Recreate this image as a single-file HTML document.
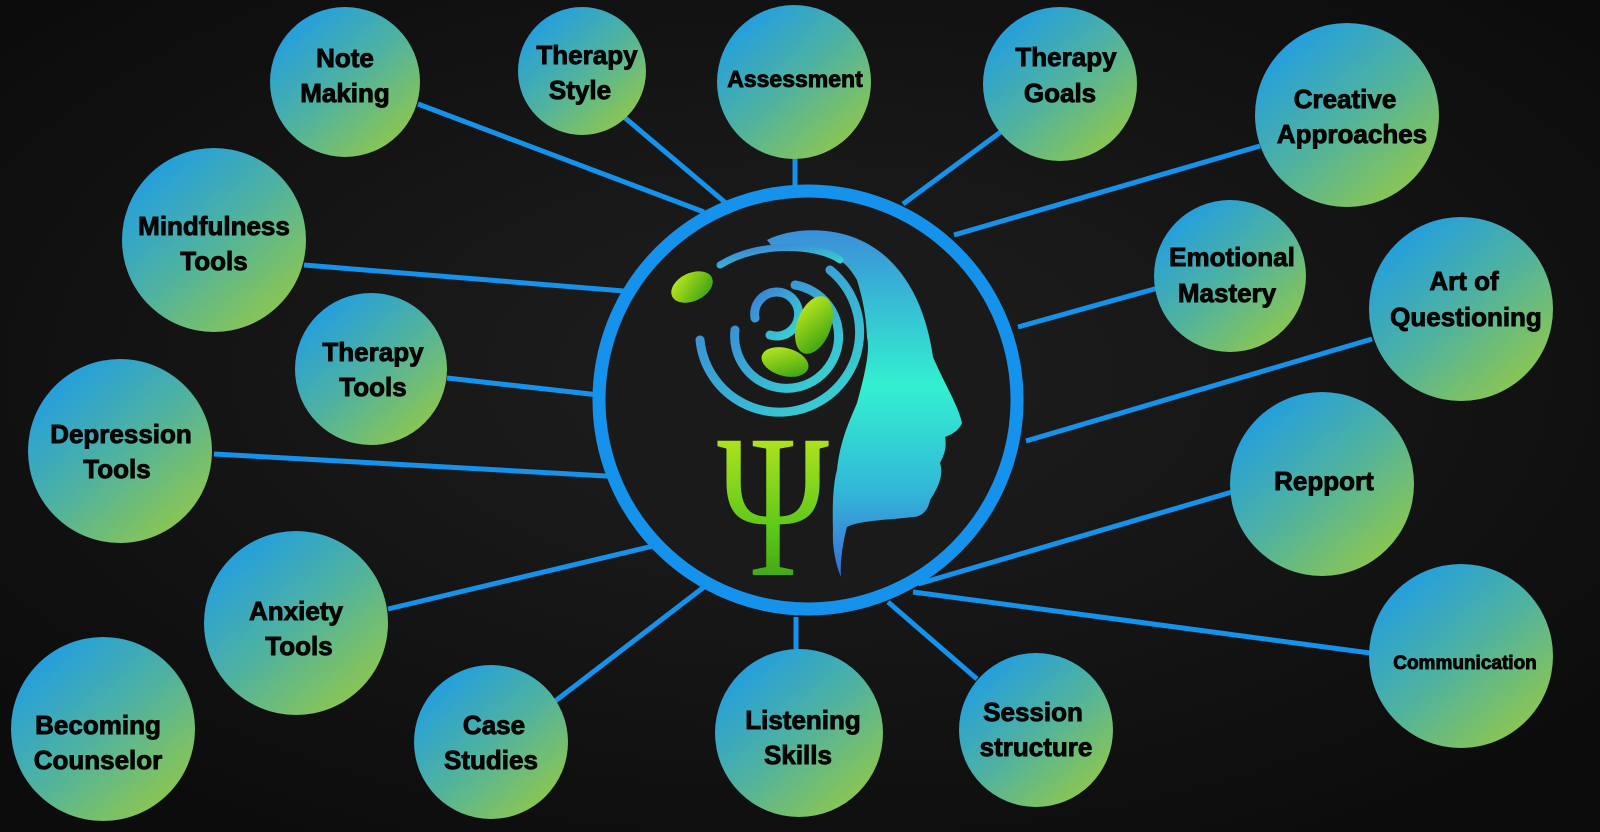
<!DOCTYPE html>
<html><head><meta charset="utf-8"><style>
html,body{margin:0;padding:0;background:#111;}
svg{display:block}
text{font-family:"Liberation Sans","DejaVu Sans",sans-serif;font-weight:bold;fill:#050505;text-anchor:middle;stroke:#050505;stroke-width:0.9px}
</style></head><body>
<svg width="1600" height="832" viewBox="0 0 1600 832" xmlns="http://www.w3.org/2000/svg">
<defs>
<radialGradient id="bg" cx="50%" cy="45%" r="65%"><stop offset="0" stop-color="#1f1f1f"/><stop offset="1" stop-color="#0c0c0c"/></radialGradient>
<linearGradient id="ng" x1="0.15" y1="0.1" x2="0.85" y2="0.9"><stop offset="0" stop-color="#229ee0"/><stop offset="0.5" stop-color="#4fb2a0"/><stop offset="1" stop-color="#8cc650"/></linearGradient>
<linearGradient id="hg" x1="0" y1="0" x2="0" y2="1"><stop offset="0" stop-color="#3a8fd8"/><stop offset="0.45" stop-color="#33f0d0"/><stop offset="0.75" stop-color="#32b8d8"/><stop offset="1" stop-color="#3a6ad8"/></linearGradient>
<linearGradient id="sg" x1="0" y1="0" x2="1" y2="1"><stop offset="0" stop-color="#3a7fd8"/><stop offset="1" stop-color="#38d8d0"/></linearGradient>
<linearGradient id="pg" x1="0" y1="0" x2="0" y2="1"><stop offset="0" stop-color="#d8f020"/><stop offset="0.6" stop-color="#5cc81a"/><stop offset="1" stop-color="#2e8a10"/></linearGradient>
<linearGradient id="lg" x1="0" y1="0" x2="1" y2="1"><stop offset="0" stop-color="#c8f020"/><stop offset="1" stop-color="#2e9a10"/></linearGradient>
</defs>
<rect width="1600" height="832" fill="url(#bg)"/>
<g stroke="#1592ec" stroke-width="5" stroke-linecap="butt">
<line x1="418" y1="104" x2="704" y2="212"/>
<line x1="624" y1="117" x2="727" y2="204"/>
<line x1="795" y1="158" x2="795" y2="186"/>
<line x1="1002" y1="131" x2="903" y2="204"/>
<line x1="1260" y1="146" x2="954" y2="235"/>
<line x1="304" y1="265" x2="624" y2="291"/>
<line x1="1158" y1="288" x2="1018" y2="327"/>
<line x1="1372" y1="339" x2="1026" y2="441"/>
<line x1="447" y1="378" x2="599" y2="395"/>
<line x1="214" y1="454" x2="624" y2="477"/>
<line x1="1232" y1="492" x2="918" y2="584"/>
<line x1="388" y1="609" x2="653" y2="546"/>
<line x1="1370" y1="653" x2="913" y2="592"/>
<line x1="554" y1="702" x2="704" y2="587"/>
<line x1="796" y1="617" x2="796" y2="650"/>
<line x1="977" y1="679" x2="888" y2="602"/>
</g>
<circle cx="808" cy="400" r="209" fill="#1a1a1a" stroke="#1592ec" stroke-width="13"/>
<path d="M767,240 C790,228 830,226 860,240 C900,258 925,300 933,357 C945,385 958,405 962,423 C958,432 950,435 945,437 C947,448 944,455 940,463 C944,475 938,488 930,500 C928,512 920,517 913,517 C890,520 860,520 847,527 C842,545 840,565 841,577 C836,565 832,548 833,530 C832,500 834,480 837,470 C840,440 850,420 857,403 C866,370 870,350 867,337 C866,310 860,290 857,280 C850,268 845,264 840,260 C825,252 800,248 775,250 Z" fill="url(#hg)"/>
<g fill="none" stroke="url(#sg)" stroke-width="9" stroke-linecap="round">
<path d="M700,340 A80,80 0 1 0 830,270"/>
<path d="M735,330 A52,52 0 1 0 795,285"/>
<path d="M755,318 A22,22 0 1 1 770,335"/>
<path d="M720,265 C760,240 820,245 840,260" stroke-width="7"/>
</g>
<ellipse cx="692" cy="287" rx="22" ry="14" fill="url(#lg)" transform="rotate(-25 692 287)"/>
<ellipse cx="814" cy="325" rx="17" ry="30" fill="url(#lg)" transform="rotate(20 814 325)"/>
<ellipse cx="785" cy="362" rx="24" ry="14" fill="url(#lg)" transform="rotate(15 785 362)"/>
<text x="773" y="575" style="font-family:'Liberation Serif',serif;font-weight:normal;fill:url(#pg);stroke:none" font-size="205" textLength="112" lengthAdjust="spacingAndGlyphs">Ψ</text>
<g fill="url(#ng)">
<circle cx="345" cy="82" r="75"/>
<circle cx="582" cy="71" r="64"/>
<circle cx="794" cy="82" r="77"/>
<circle cx="1060" cy="84" r="77"/>
<circle cx="1347" cy="115" r="92"/>
<circle cx="214" cy="240" r="92"/>
<circle cx="1230" cy="276" r="76"/>
<circle cx="1461" cy="309" r="92"/>
<circle cx="371" cy="369" r="76"/>
<circle cx="120" cy="451" r="92"/>
<circle cx="1322" cy="484" r="92"/>
<circle cx="296" cy="623" r="92"/>
<circle cx="1461" cy="656" r="92"/>
<circle cx="103" cy="729" r="92"/>
<circle cx="491" cy="742" r="77"/>
<circle cx="799" cy="733" r="84"/>
<circle cx="1036" cy="730" r="77"/>
</g>
<g font-size="26">
<text x="345" y="67">Note</text><text x="345" y="102">Making</text>
<text x="587" y="64">Therapy</text><text x="580" y="99">Style</text>
<text x="795" y="87" font-size="23">Assessment</text>
<text x="1066" y="66">Therapy</text><text x="1060" y="102">Goals</text>
<text x="1345" y="108">Creative</text><text x="1352" y="143">Approaches</text>
<text x="214" y="235">Mindfulness</text><text x="214" y="270">Tools</text>
<text x="1232" y="266">Emotional</text><text x="1227" y="302">Mastery</text>
<text x="1464" y="290">Art of</text><text x="1466" y="326">Questioning</text>
<text x="373" y="361">Therapy</text><text x="373" y="396">Tools</text>
<text x="121" y="443">Depression</text><text x="117" y="478">Tools</text>
<text x="1324" y="490">Repport</text>
<text x="296" y="620">Anxiety</text><text x="299" y="655">Tools</text>
<text x="1465" y="669" font-size="19">Communication</text>
<text x="98" y="734">Becoming</text><text x="98" y="769">Counselor</text>
<text x="494" y="734">Case</text><text x="491" y="769">Studies</text>
<text x="803" y="729">Listening</text><text x="798" y="764">Skills</text>
<text x="1033" y="721">Session</text><text x="1036" y="756">structure</text>
</g>
</svg>
</body></html>
